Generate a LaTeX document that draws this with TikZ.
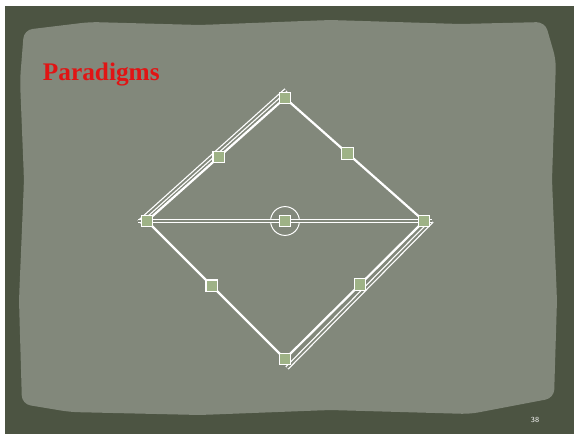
\documentclass[tikz,border=0pt]{standalone}
\usepackage{fontspec}
\setmainfont{Liberation Serif}
\usepackage{xcolor}
\usetikzlibrary{calc}
\definecolor{frameolive}{RGB}{76,84,66}
\definecolor{paper}{RGB}{130,136,123}
\definecolor{pinfill}{RGB}{158,178,134}
\definecolor{titlered}{RGB}{225,20,20}
\tikzset{
  sqline/.style={white,line width=1.6pt},
  dblline/.style={draw=white,line width=0.9pt,double=paper,double distance=1.3pt},
  pin/.style={draw=white,line width=0.8pt,fill=pinfill,minimum size=0.29cm,inner sep=0pt},
  hub/.style={draw=white,line width=0.7pt,circle,minimum size=0.72cm,inner sep=0pt}
}

\begin{document}
\begin{tikzpicture}[x=0.025cm,y=-0.025cm]
  \useasboundingbox (0,0) rectangle (574,434);
  \fill[white] (0,0) rectangle (574,434);
  \fill[frameolive] (5,6) rectangle (574,434);
  % paper sheet with rough edge
  \fill[paper,rounded corners=6pt] (24,30) -- (90,22) -- (200,25) -- (330,20) -- (460,24) -- (545,22)
    -- (556,60) -- (552,180) -- (557,300) -- (554,398) -- (470,414) -- (330,410) -- (200,415)
    -- (70,412) -- (22,404) -- (19,300) -- (24,180) -- (20,80) -- cycle;
  \node[titlered,font=\bfseries\fontsize{18}{20}\selectfont,anchor=west] (title) at (38,75) {Paradigms};
  % corners of the diamond
  \node[pin] (top) at (285,98) {};
  \node[pin] (lft) at (147,221) {};
  \node[pin] (rgt) at (424,221) {};
  \node[pin] (bot) at (285,359) {};
  \node[pin] (ctr) at (285,221) {};
  \node[hub] (ring) at (285,221) {};
  % extra parallel strokes
  \coordinate (ulA) at (139,222);
  \coordinate (ulB) at (286,90);
  \coordinate (lrA) at (432,221);
  \coordinate (lrB) at (287,368);
  \coordinate (hzA) at (138,221);
  \coordinate (hzB) at (432,221);
  \draw[dblline] (ulA) -- (ulB);
  \draw[dblline] (lrA) -- (lrB);
  \draw[dblline] (hzA) -- (hzB);
  \draw[sqline] (lft.center) -- (top.center) -- (rgt.center) -- (bot.center) -- (lft.center);
  % markers on the edges
  \node[pin] (ul) at ($(lft)!0.52!(top)$) {};
  \node[pin] (ur) at ($(top)!0.45!(rgt)$) {};
  \node[pin] (ll) at ($(lft)!0.47!(bot)$) {};
  \node[pin] (lr) at ($(rgt)!0.46!(bot)$) {};
  \foreach \n in {top,lft,rgt,bot,ctr}{
    \node[pin] at (\n) {};
  }
  \node[white,font=\sffamily\fontsize{5.5}{6}\selectfont] (pageno) at (535,420) {38};
\end{tikzpicture}
\end{document}
